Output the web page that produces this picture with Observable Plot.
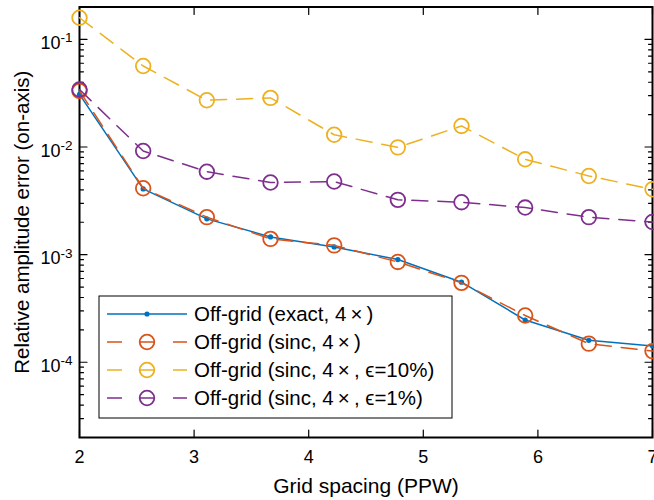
<!DOCTYPE html>
<html><head><meta charset="utf-8">
<script src="https://cdn.jsdelivr.net/npm/d3@7"></script>
<script src="https://cdn.jsdelivr.net/npm/@observablehq/plot@0.6"></script>
<style>
html,body{margin:0;padding:0;background:#fff;}
#chart svg{font-family:"Liberation Sans",Arial,Helvetica,sans-serif;}
</style></head><body><div id="chart"></div>
<script>
// Grid spacing (PPW) sample positions
const ppw = [2, 2.5556, 3.1111, 3.6667, 4.2222, 4.7778, 5.3333, 5.8889, 6.4444, 7];
// Relative amplitude error (on-axis)
const exact4x    = [0.0308, 0.00408, 0.00215, 0.00146, 0.00118, 0.00090, 0.000555, 0.000247, 0.000160, 0.000142];
const sinc4x     = [0.0332, 0.00414, 0.00223, 0.00140, 0.00122, 0.000855, 0.000547, 0.000272, 0.000149, 0.000127];
const sinc4xEps10 = [0.159, 0.0566, 0.0272, 0.0286, 0.0130, 0.00993, 0.0157, 0.00769, 0.00538, 0.00405];
const sinc4xEps1  = [0.0342, 0.00918, 0.00590, 0.00468, 0.00478, 0.00323, 0.00307, 0.00274, 0.00223, 0.00201];

const seriesNames = [
  "Off-grid (exact, 4\u2009×\u2009)",
  "Off-grid (sinc, 4\u2009×\u2009)",
  "Off-grid (sinc, 4\u2009×\u2009, ϵ=10%)",
  "Off-grid (sinc, 4\u2009×\u2009, ϵ=1%)"
];
const seriesColors = ["#0072BD", "#D95319", "#EDB120", "#7E2F8E"];
const seriesValues = [exact4x, sinc4x, sinc4xEps10, sinc4xEps1];

const xTicks = [2, 3, 4, 5, 6, 7];
const yTicks = [1e-4, 1e-3, 1e-2, 1e-1];
const yTickLabels = ["10^-4", "10^-3", "10^-2", "10^-1"];
const xLabel = "Grid spacing (PPW)";
const yLabel = "Relative amplitude error (on-axis)";

const yDomain = [2e-5, 0.2];
const yMinor = [];
for (let e = -5; e <= -1; e++) for (let m = 2; m <= 9; m++) {
  const v = m * Math.pow(10, e);
  if (v >= yDomain[0] && v <= yDomain[1]) yMinor.push(v);
}

const rows = seriesValues.map((vals, s) => ppw.map((x, i) => ({x, y: vals[i], s})));

const tickStyle = {anchor: "start", r: 0, stroke: "black", strokeWidth: 1.2};
const marks = [
  Plot.frame({stroke: "black", strokeWidth: 2}),
  Plot.vector(yMinor, {y: d => d, frameAnchor: "left", rotate: 90, length: 4, ...tickStyle}),
  Plot.vector(yMinor, {y: d => d, frameAnchor: "right", rotate: -90, length: 4, ...tickStyle}),
  Plot.vector(yTicks, {y: d => d, frameAnchor: "left", rotate: 90, length: 7.5, ...tickStyle}),
  Plot.vector(yTicks, {y: d => d, frameAnchor: "right", rotate: -90, length: 7.5, ...tickStyle}),
  Plot.vector(xTicks, {x: d => d, frameAnchor: "bottom", rotate: 0, length: 7.5, ...tickStyle}),
  Plot.vector(xTicks, {x: d => d, frameAnchor: "top", rotate: 180, length: 7.5, ...tickStyle}),
  Plot.axisX(xTicks, {tickSize: 0, tickPadding: 13, fontSize: 18, label: null, tickFormat: d => String(d)}),
  Plot.axisY(yTicks, {tickSize: 0, tickPadding: 7, fontSize: 18, label: null, dy: 4,
    tickFormat: d => yTickLabels[yTicks.indexOf(d)]}),
  Plot.text([xLabel], {text: d => d, frameAnchor: "bottom", dy: 48.6, fontSize: 21, lineAnchor: "middle", textAnchor: "middle"}),
  Plot.text([yLabel], {text: d => d, frameAnchor: "left", dx: -57.4, rotate: -90, fontSize: 20.5, lineAnchor: "middle", textAnchor: "middle"})
];
// blue: solid with dots
marks.push(Plot.line(rows[0], {x: "x", y: "y", stroke: seriesColors[0], strokeWidth: 1.5}));
marks.push(Plot.dot(rows[0], {x: "x", y: "y", r: 2.6, fill: seriesColors[0], stroke: "none"}));
for (let s = 1; s < 4; s++) {
  marks.push(Plot.line(rows[s], {x: "x", y: "y", stroke: seriesColors[s], strokeWidth: 1.5, strokeDasharray: "16,10"}));
  marks.push(Plot.dot(rows[s], {x: "x", y: "y", r: 7.3, fill: "none", stroke: seriesColors[s], strokeWidth: 1.8}));
}

const svg = Plot.plot({
  width: 654, height: 500,
  marginLeft: 79, marginRight: 2, marginTop: 6.5, marginBottom: 63,
  style: {fontFamily: '"Liberation Sans", Arial, Helvetica, sans-serif', fontSize: "18px", overflow: "visible", background: "white"},
  x: {domain: [2, 7], label: null},
  y: {type: "log", domain: yDomain, label: null},
  marks
});
document.getElementById("chart").appendChild(svg);

// superscripts on y tick labels
d3.select(svg).selectAll('[aria-label="y-axis tick label"] text').each(function() {
  const t = this.textContent;
  const [base, exp] = t.split("^");
  const sel = d3.select(this);
  sel.text(null);
  sel.append("tspan").text(base);
  sel.append("tspan").attr("dy", "-0.5em").attr("font-size", "13.5px").text(exp);
});

// legend inside axes
const g = d3.select(svg).append("g").attr("class", "legend").attr("text-anchor", "start");
g.append("rect").attr("x", 99).attr("y", 296).attr("width", 353).attr("height", 122)
  .attr("fill", "white").attr("stroke", "black").attr("stroke-width", 1);
seriesNames.forEach((name, i) => {
  const cy = 314 + i * 28;
  const line = g.append("line").attr("x1", 107).attr("x2", 187).attr("y1", cy).attr("y2", cy)
    .attr("stroke", seriesColors[i]).attr("stroke-width", 1.5);
  if (i === 0) {
    g.append("circle").attr("cx", 147).attr("cy", cy).attr("r", 2.6).attr("fill", seriesColors[i]);
  } else {
    line.attr("stroke-dasharray", "15,18");
    g.append("circle").attr("cx", 147).attr("cy", cy).attr("r", 7.3).attr("fill", "none")
      .attr("stroke", seriesColors[i]).attr("stroke-width", 1.8);
  }
  g.append("text").attr("x", 194).attr("y", cy).attr("dy", "0.36em").attr("text-anchor", "start")
    .attr("font-size", "20.5px").attr("fill", "black").text(name);
});
</script></body></html>
